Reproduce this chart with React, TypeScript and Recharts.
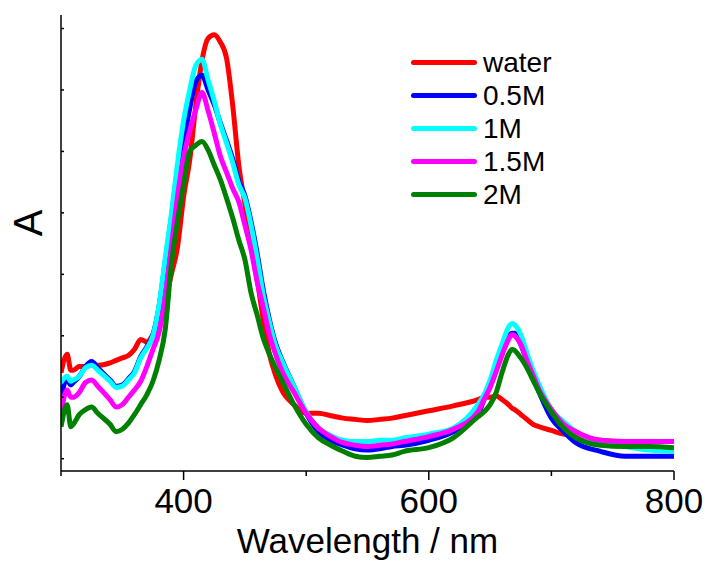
import { LineChart, Line, XAxis, YAxis, Label } from 'recharts';

// wavelength grid (nm)
const wavelengths = [
  300, 305, 308, 310, 315, 320, 325, 330, 340, 345, 350, 355, 360, 365, 370, 375,
  380, 385, 390, 395, 400, 405, 410, 415, 420, 425, 430, 435, 440, 445, 450, 455, 460, 465, 470, 475, 480,
  490, 500, 510, 520, 530, 540, 550, 560, 570, 580, 600,
  620, 640, 645, 650, 655, 660, 665, 668, 670, 675, 680, 685, 690,
  700, 710, 720, 740, 760, 780, 800,
];

const water = [
  0.70, 0.85, 0.72, 0.72, 0.75, 0.75, 0.76, 0.76,
  0.78, 0.80, 0.82, 0.84, 0.89, 0.97, 0.95, 1.01,
  1.11, 1.29, 1.50, 1.72, 2.13, 2.43, 2.88, 3.24, 3.42, 3.45, 3.39, 3.26, 2.88, 2.39, 2.07, 1.74, 1.46, 1.13, 0.85, 0.68, 0.56,
  0.44, 0.37, 0.37, 0.35, 0.33, 0.32, 0.31, 0.32, 0.33, 0.35, 0.39,
  0.43, 0.48, 0.50, 0.50, 0.51, 0.48, 0.44, 0.41, 0.40, 0.36, 0.32, 0.28, 0.26,
  0.23, 0.20, 0.19, 0.15, 0.14, 0.14, 0.14,
];

const m05 = [
  0.50, 0.64, 0.60, 0.62, 0.67, 0.75, 0.79, 0.74,
  0.64, 0.59, 0.60, 0.65, 0.71, 0.83, 0.91, 1.01,
  1.24, 1.60, 1.96, 2.35, 2.58, 2.85, 3.07, 3.12, 3.00, 2.88, 2.73, 2.59, 2.44, 2.26, 2.14, 1.93, 1.67, 1.37, 1.13, 0.94, 0.81,
  0.59, 0.37, 0.22, 0.15, 0.11, 0.08, 0.07, 0.08, 0.10, 0.11, 0.15,
  0.22, 0.36, 0.48, 0.60, 0.76, 0.89, 1.00, 1.02, 1.02, 0.93, 0.80, 0.66, 0.54,
  0.33, 0.22, 0.13, 0.06, 0.02, 0.02, 0.02,
];

const m1 = [
  0.62, 0.67, 0.63, 0.64, 0.67, 0.74, 0.76, 0.72,
  0.63, 0.58, 0.59, 0.64, 0.70, 0.82, 0.90, 1.00,
  1.25, 1.63, 1.99, 2.40, 2.75, 3.00, 3.20, 3.25, 3.08, 2.91, 2.72, 2.57, 2.41, 2.23, 2.12, 1.90, 1.63, 1.33, 1.11, 0.92, 0.80,
  0.59, 0.38, 0.25, 0.19, 0.15, 0.14, 0.14, 0.15, 0.15, 0.17, 0.20,
  0.25, 0.44, 0.52, 0.64, 0.80, 0.94, 1.07, 1.10, 1.09, 1.01, 0.86, 0.72, 0.60,
  0.40, 0.30, 0.22, 0.14, 0.10, 0.07, 0.06,
];

const m15 = [
  0.37, 0.56, 0.50, 0.50, 0.54, 0.62, 0.64, 0.59,
  0.48, 0.42, 0.44, 0.50, 0.56, 0.63, 0.75, 0.89,
  1.03, 1.31, 1.72, 2.13, 2.45, 2.67, 2.84, 2.98, 2.83, 2.65, 2.46, 2.33, 2.20, 2.09, 1.90, 1.70, 1.44, 1.23, 1.01, 0.85, 0.72,
  0.54, 0.37, 0.25, 0.18, 0.13, 0.11, 0.10, 0.11, 0.12, 0.14, 0.18,
  0.24, 0.38, 0.48, 0.58, 0.71, 0.85, 0.97, 1.01, 1.00, 0.93, 0.80, 0.68, 0.56,
  0.40, 0.28, 0.22, 0.15, 0.14, 0.14, 0.14,
];

const m2 = [
  0.26, 0.44, 0.26, 0.28, 0.36, 0.40, 0.42, 0.37,
  0.28, 0.22, 0.24, 0.29, 0.36, 0.44, 0.52, 0.63,
  0.80, 1.05, 1.58, 1.93, 2.23, 2.50, 2.55, 2.58, 2.51, 2.39, 2.27, 2.12, 1.96, 1.78, 1.62, 1.35, 1.17, 0.98, 0.85, 0.74, 0.64,
  0.44, 0.28, 0.17, 0.11, 0.06, 0.02, 0.01, 0.02, 0.03, 0.06, 0.09,
  0.17, 0.34, 0.38, 0.44, 0.54, 0.71, 0.85, 0.89, 0.88, 0.82, 0.74, 0.64, 0.54,
  0.38, 0.25, 0.17, 0.11, 0.10, 0.10, 0.09,
];

const seriesNames = ['water', '0.5M', '1M', '1.5M', '2M'];
const seriesColors = ['#ff0000', '#0000ff', '#00ffff', '#ff00ff', '#008000'];
const seriesValues = [water, m05, m1, m15, m2];

const xTicks = [300, 400, 500, 600, 700, 800];
const xLabelled = [400, 600, 800];
const yTicks = [0, 0.5, 1, 1.5, 2, 2.5, 3, 3.5];

const data = wavelengths.map((w, i) => {
  const row: Record<string, number> = { w };
  seriesValues.forEach((s, k) => { row['s' + k] = s[i]; });
  return row;
});

const FONT = '"Liberation Sans", Arial, sans-serif';

const XTick = (props: any) => {
  const { x, y, payload } = props;
  const major = xLabelled.includes(payload.value);
  return (
    <g>
      <line x1={x} x2={x} y1={y} y2={y + (major ? 9 : 5)} stroke="#000" strokeWidth={1.5} />
      {major && (
        <text x={x} y={y + 42} textAnchor="middle" fontSize={35} fill="#000" fontFamily={FONT}>
          {payload.value}
        </text>
      )}
    </g>
  );
};

const YTick = (props: any) => {
  const { x, y } = props;
  return <line x1={x} x2={x + 3} y1={y} y2={y} stroke="#000" strokeWidth={1.5} />;
};

export default function App() {
  return (
    <div style={{ position: 'absolute', left: 0, top: 0, width: 710, height: 565, background: '#fff', fontFamily: FONT }}>
      <LineChart width={710} height={565} data={data} margin={{ top: 15, right: 36, bottom: 0, left: 0 }}>
        <XAxis
          dataKey="w"
          type="number"
          domain={[300, 800]}
          ticks={xTicks}
          allowDataOverflow
          height={94}
          tickSize={0}
          tickMargin={0}
          tickLine={false}
          tick={<XTick />}
          axisLine={{ stroke: '#000', strokeWidth: 1.5 }}
        >
          <Label
            content={(p: any) => {
              const vb = p.viewBox;
              return (
                <text x={vb.x + vb.width / 2} y={553} textAnchor="middle" fontSize={35} fill="#000" fontFamily={FONT}>
                  Wavelength / nm
                </text>
              );
            }}
          />
        </XAxis>
        <YAxis
          type="number"
          domain={[-0.1, 3.61]}
          ticks={yTicks}
          allowDataOverflow
          width={61}
          tickSize={0}
          tickMargin={0}
          tickLine={false}
          tick={<YTick />}
          axisLine={{ stroke: '#000', strokeWidth: 1.5 }}
        >
          <Label
            content={() => (
              <text
                x={28}
                y={223}
                transform="rotate(-90 28 223)"
                textAnchor="middle"
                dominantBaseline="central"
                fontSize={40}
                fill="#000"
                fontFamily={FONT}
              >
                A
              </text>
            )}
          />
        </YAxis>
        {seriesNames.map((name, k) => (
          <Line
            key={name}
            name={name}
            dataKey={'s' + k}
            type="monotone"
            stroke={seriesColors[k]}
            strokeWidth={5}
            strokeLinejoin="round"
            dot={false}
            activeDot={false}
            isAnimationActive={false}
          />
        ))}
      </LineChart>
      <div style={{ position: 'absolute', left: 411, top: 45.5 }}>
        {seriesNames.map((name, k) => (
          <div key={name} style={{ display: 'flex', alignItems: 'center', height: 33 }}>
            <div style={{ width: 66, height: 5, borderRadius: 3, background: seriesColors[k], marginRight: 6 }} />
            <span style={{ fontSize: 28, color: '#000', lineHeight: '33px' }}>{name}</span>
          </div>
        ))}
      </div>
    </div>
  );
}
